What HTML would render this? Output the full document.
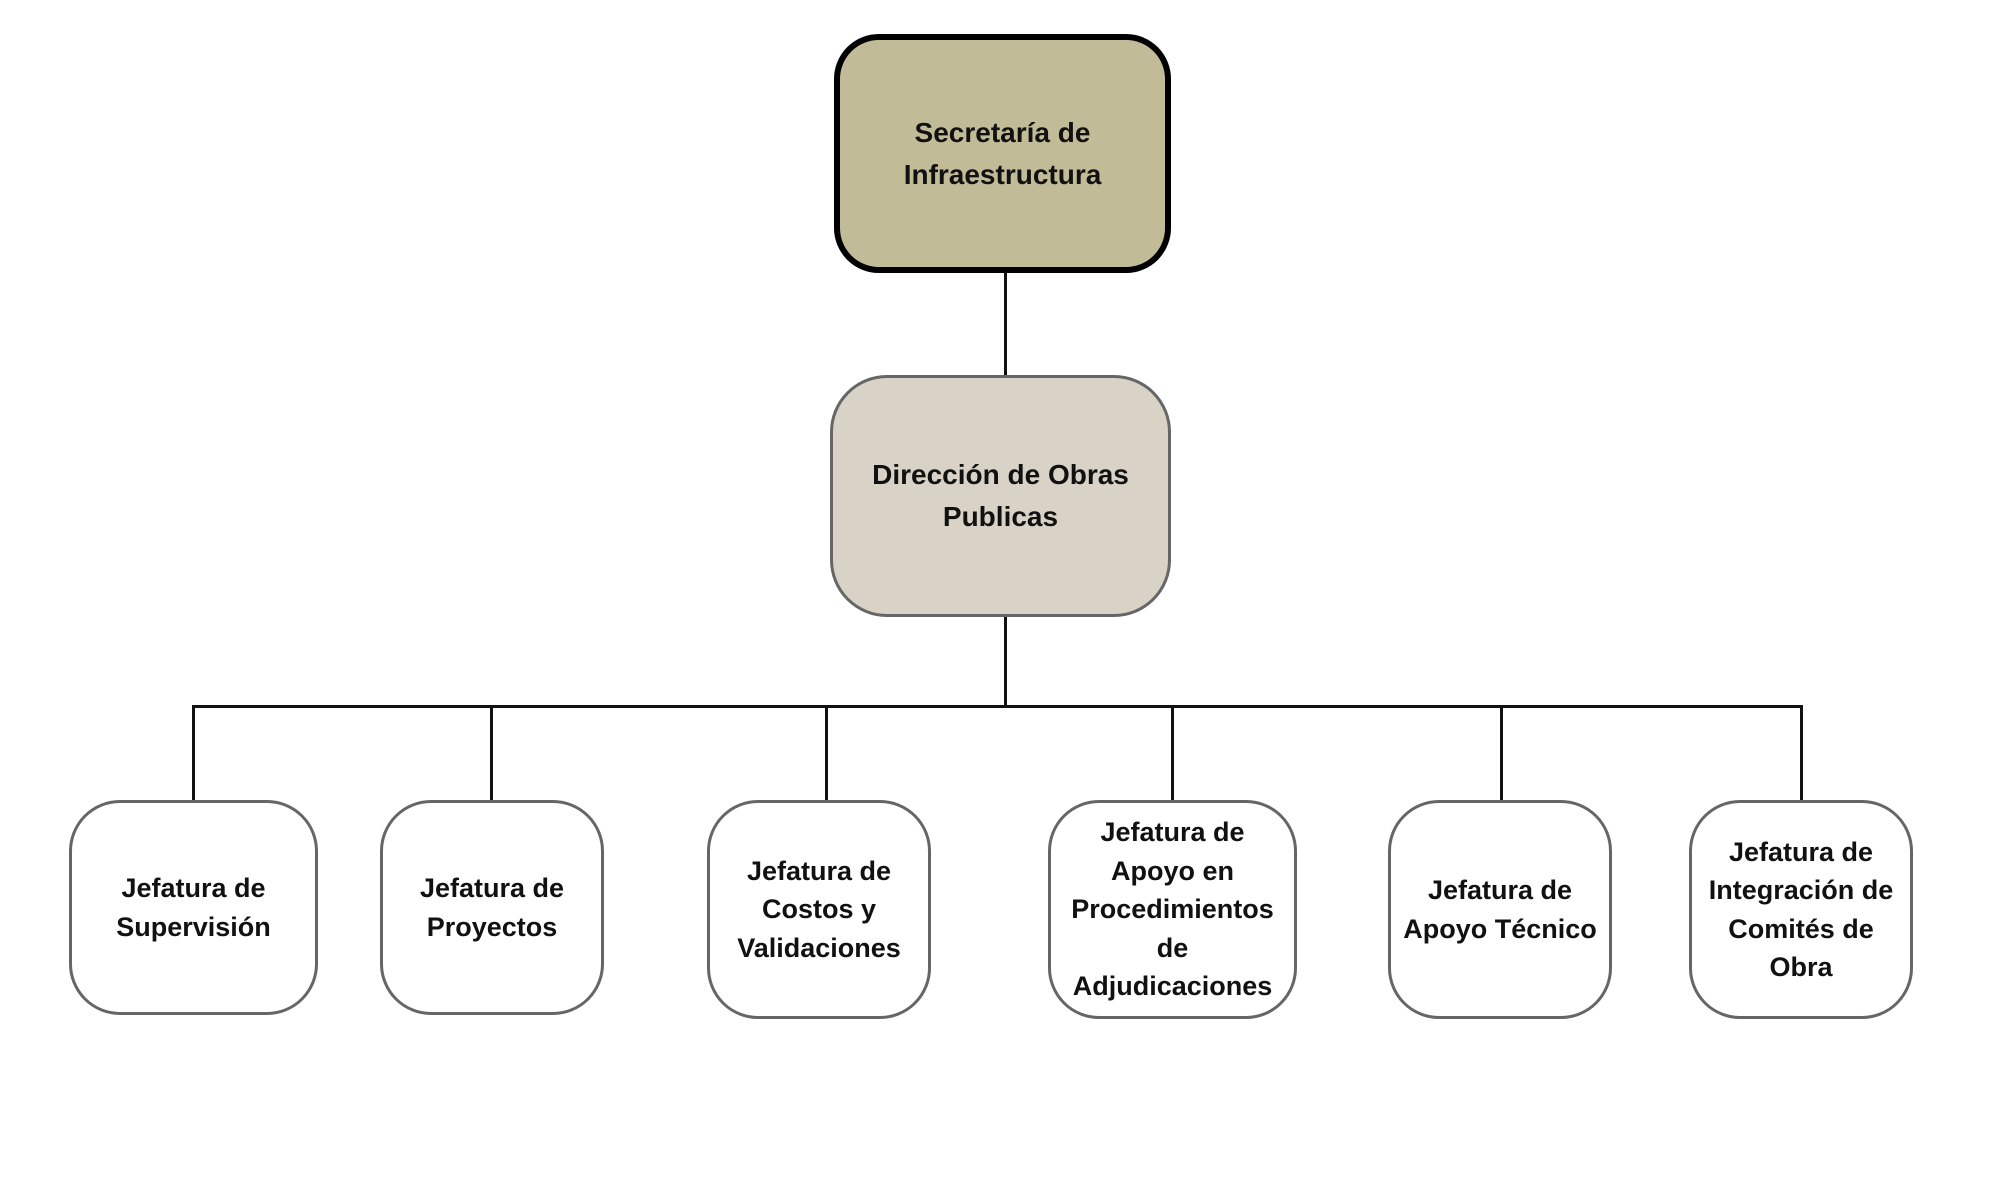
<!DOCTYPE html>
<html><head><meta charset="utf-8"><style>
body{margin:0;width:2000px;height:1200px;background:#fff;position:relative;overflow:hidden;font-family:"Liberation Sans",sans-serif;}
.b{position:absolute;box-sizing:border-box;display:flex;align-items:center;justify-content:center;text-align:center;font-weight:bold;font-size:27px;line-height:38.5px;color:#111;background:#fff;border:3.5px solid #666;border-radius:51px;}
.l{position:absolute;background:#111;}
</style></head><body>
<div class="l" style="left:1004px;top:272px;width:3px;height:104px"></div>
<div class="l" style="left:1004px;top:616px;width:3px;height:92px"></div>
<div class="l" style="left:192px;top:705px;width:1611px;height:3px"></div>
<div class="l" style="left:192px;top:705px;width:3px;height:96px"></div>
<div class="l" style="left:490px;top:705px;width:3px;height:96px"></div>
<div class="l" style="left:825px;top:705px;width:3px;height:96px"></div>
<div class="l" style="left:1171px;top:705px;width:3px;height:96px"></div>
<div class="l" style="left:1500px;top:705px;width:3px;height:96px"></div>
<div class="l" style="left:1800px;top:705px;width:3px;height:96px"></div>

<div class="b" style="left:834px;top:34px;width:337px;height:239px;background:#c2bb98;border:6px solid #000;border-radius:45px;font-size:28px;line-height:42px">Secretaría de<br>Infraestructura</div>
<div class="b" style="left:830px;top:375px;width:341px;height:242px;background:#d8d3c6;border-radius:57px;font-size:28px;line-height:42px">Dirección de Obras<br>Publicas</div>

<div class="b" style="left:69px;top:800px;width:249px;height:215px">Jefatura de<br>Supervisión</div>
<div class="b" style="left:380px;top:800px;width:224px;height:215px">Jefatura de<br>Proyectos</div>
<div class="b" style="left:707px;top:800px;width:224px;height:219px">Jefatura de<br>Costos y<br>Validaciones</div>
<div class="b" style="left:1048px;top:800px;width:249px;height:219px">Jefatura de<br>Apoyo en<br>Procedimientos<br>de<br>Adjudicaciones</div>
<div class="b" style="left:1388px;top:800px;width:224px;height:219px">Jefatura de<br>Apoyo Técnico</div>
<div class="b" style="left:1689px;top:800px;width:224px;height:219px">Jefatura de<br>Integración de<br>Comités de<br>Obra</div>
</body></html>
